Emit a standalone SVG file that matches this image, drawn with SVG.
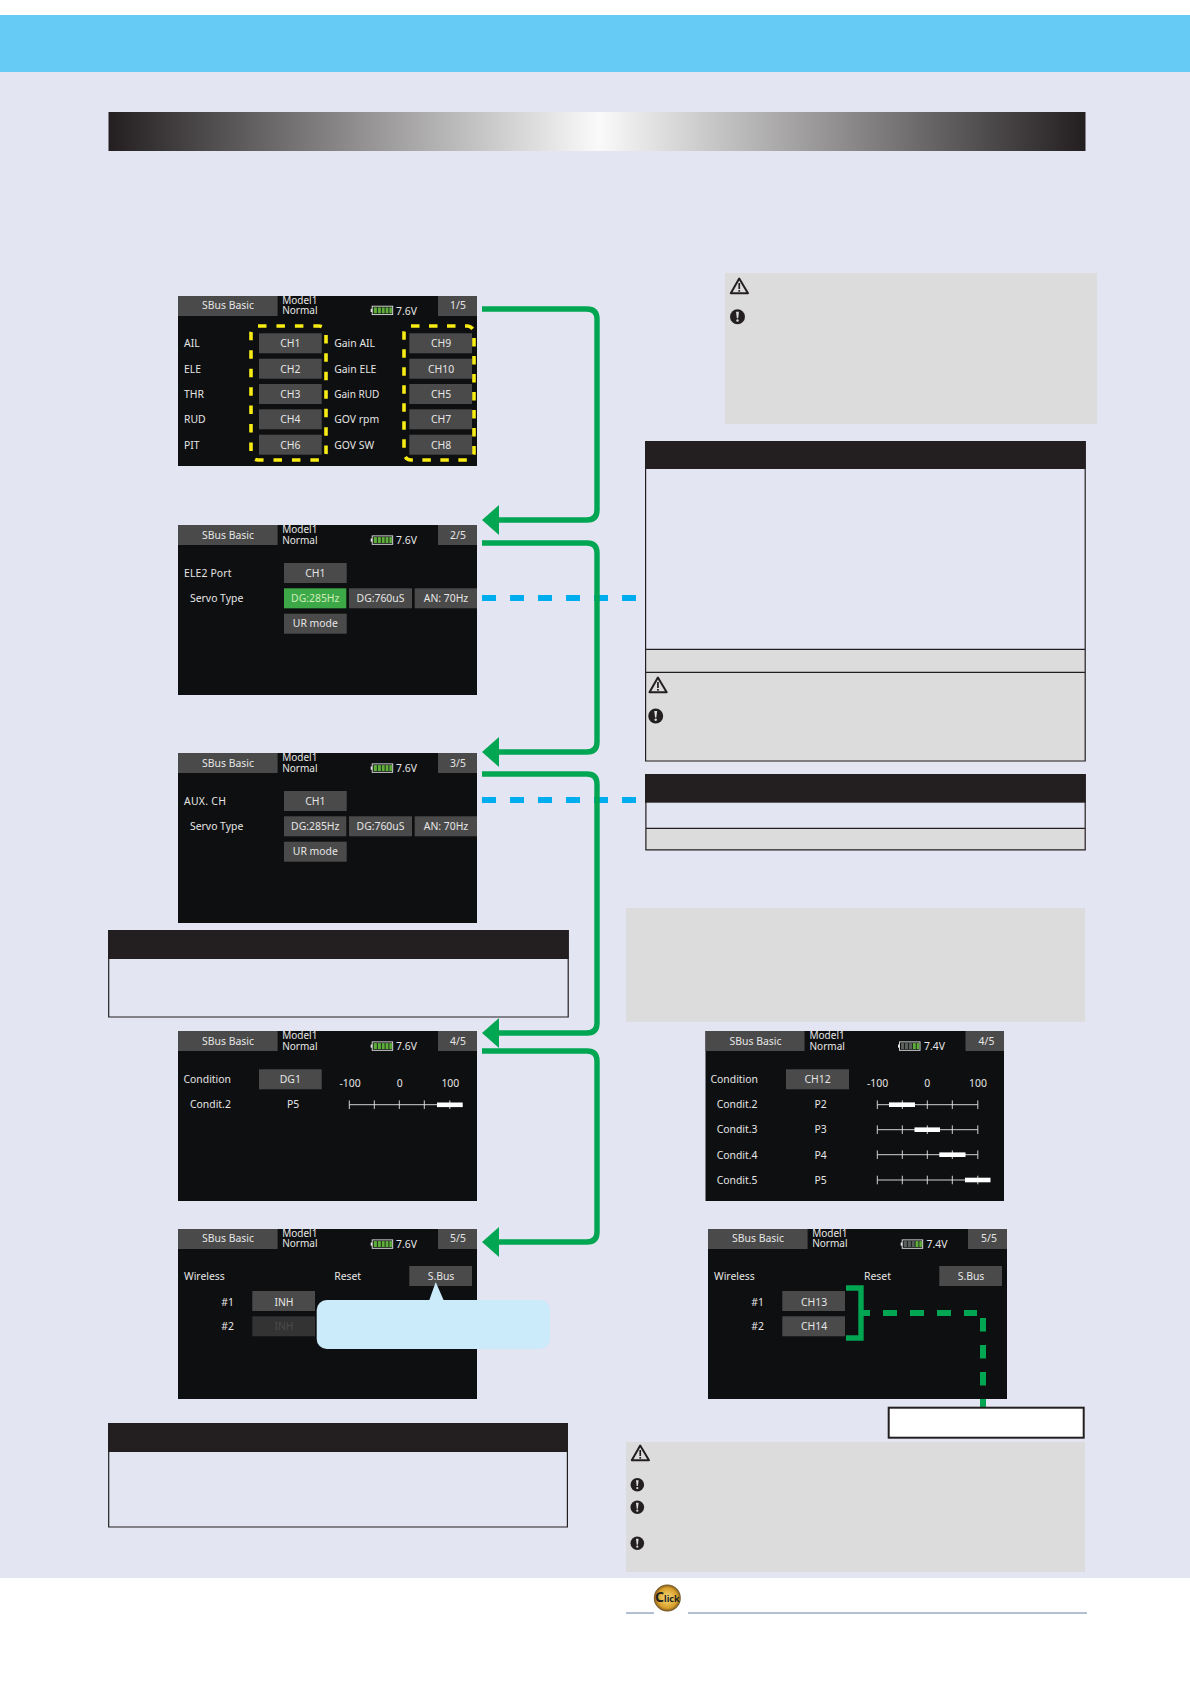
<svg xmlns="http://www.w3.org/2000/svg" xmlns:xlink="http://www.w3.org/1999/xlink" width="1190" height="1684" viewBox="0 0 1190 1684">
<style>
text{font-family:"Noto Sans","Open Sans","DejaVu Sans",sans-serif;font-size:10.4px;fill:#e6e6e6}
.scr{fill:#0e0f10}
.btn{fill:#4a4a4a}
.m{text-anchor:middle}
.mn{font-size:10px}
.hdr{fill:#231f20}
.box{fill:none;stroke:#231f20;stroke-width:1.2}
.gray{fill:#dcdcdc}
.lav{fill:#e4e5f3}
.arrow{fill:none;stroke:#00a651;stroke-width:5.4;stroke-linejoin:round}
.dashg{fill:none;stroke:#00a651;stroke-width:6;stroke-dasharray:14 13}
.dashv{fill:none;stroke:#00a651;stroke-width:6;stroke-dasharray:13.5 13.5}
.dashb{fill:none;stroke:#00aeef;stroke-width:6;stroke-dasharray:14 14}
.yel{fill:none;stroke:#f7ec13;stroke-width:3.6}
.head{fill:#00a651}
.scale{stroke:#e6e6e6;stroke-width:.9;fill:none}
.bar{fill:#fff}
.warn{fill:none;stroke:#231f20;stroke-width:2;stroke-linejoin:round}
.ink{fill:#231f20}
.inkw{fill:#dcdcdc}
</style>
<defs>
<linearGradient id="bar" x1="0" x2="1" y1="0" y2="0">
<stop offset="0" stop-color="#231f20"/><stop offset=".502" stop-color="#fafafa"/><stop offset="1" stop-color="#231f20"/>
</linearGradient>
<radialGradient id="gold" cx=".5" cy=".5" r=".52">
<stop offset="0" stop-color="#f8dc7c"/><stop offset=".72" stop-color="#d99f2a"/><stop offset="1" stop-color="#5c4320"/>
</radialGradient>
<g id="warn"><path class="warn" d="M9.2,1.5 L18,16.2 H.8 Z"/><rect class="ink" x="8.4" y="6" width="1.7" height="6"/><rect class="ink" x="8.4" y="13" width="1.7" height="1.7"/></g>
<g id="excl"><circle class="ink" cx="0" cy="0" r="6.8"/><path class="inkw" d="M-1.3,-4.5 H1.3 L.6,1.4 H-.6 Z"/><circle class="inkw" cx="0" cy="3.4" r="1.1"/></g>
<g id="batt76"><rect x="1.5" y="0" width="20.5" height="8.4" fill="#0e0f10" stroke="#e6e6e6" stroke-width=".9"/><rect x="0" y="2.6" width="1.5" height="3.2" fill="#e6e6e6"/><g fill="#5fae3c"><rect x="3" y="1.2" width="3.2" height="6"/><rect x="7" y="1.2" width="3.2" height="6"/><rect x="11" y="1.2" width="3" height="6"/><rect x="14.8" y="1.2" width="3" height="6"/><rect x="18.6" y="1.2" width="2.6" height="6"/></g></g>
<g id="batt74"><rect x="1.5" y="0" width="20.5" height="8.4" fill="#0e0f10" stroke="#e6e6e6" stroke-width=".9"/><rect x="0" y="2.6" width="1.5" height="3.2" fill="#e6e6e6"/><g fill="#5a5f5c"><rect x="3" y="1.2" width="3.2" height="6"/><rect x="7" y="1.2" width="3.2" height="6"/><rect x="11" y="1.2" width="3" height="6"/></g><g fill="#5fae3c"><rect x="14.8" y="1.2" width="3" height="6"/><rect x="18.6" y="1.2" width="2.6" height="6"/></g></g>
<g id="scaleline"><path class="scale" d="M0,0 H100.5 M0,-4.3 V4.3 M25,-4.3 V4.3 M50,-4.3 V4.3 M75,-4.3 V4.3 M100.5,-4.3 V4.3"/></g>
</defs>

<rect width="1190" height="1684" fill="#fff"/>
<rect id="page" class="lav" y="72" width="1190" height="1506"/>
<rect id="band" y="15" width="1190" height="57" fill="#66ccf5"/>
<rect id="titlebar" x="108.5" y="112" width="977" height="39" fill="url(#bar)"/>

<g id="note-top">
<rect class="gray" x="725" y="273" width="372" height="151"/>
<use xlink:href="#warn" x="730" y="277"/><use xlink:href="#excl" transform="translate(737.5,316.7) scale(1.1)"/>
</g>

<g id="panel-servo">
<rect class="lav" x="645.3" y="441" width="440" height="208"/>
<rect class="gray" x="645.3" y="649" width="440" height="112.3"/>
<rect class="hdr" x="645" y="441" width="440.7" height="28"/>
<path class="box" d="M645.6,441 V761 H1085.2 V441 M645.6,649.3 H1085.2 M645.6,672.3 H1085.2"/>
<use xlink:href="#warn" x="648.7" y="676"/><use xlink:href="#excl" transform="translate(655.7,716) scale(1.1)"/>
</g>

<g id="panel-aux">
<rect class="gray" x="645.6" y="828" width="440" height="22"/>
<rect class="hdr" x="645" y="774" width="440.7" height="28.7"/>
<path class="box" d="M645.9,774 V849.8 H1085.2 V774 M645.9,828.3 H1085.2"/>
</g>

<rect id="note-mid" class="gray" x="626" y="908" width="459" height="113.7"/>

<g id="panel-left1">
<rect class="hdr" x="108" y="930" width="460.7" height="29"/>
<path class="box" d="M108.7,930 V1017 H568.2 V930"/>
</g>
<g id="panel-left2">
<rect class="hdr" x="108" y="1423" width="460" height="29"/>
<path class="box" d="M108.7,1423 V1527 H567.4 V1423"/>
</g>

<g id="screen-1" transform="translate(178,296)">
<rect class="scr" width="299" height="170"/>
<rect class="btn" width="99.6" height="20"/><rect class="btn" x="260" width="39" height="20"/>
<text class="m" x="50" y="13">SBus Basic</text><text class="mn" x="104.2"><tspan y="7.5">Model1</tspan><tspan x="104.2" y="18">Normal</tspan></text>
<use xlink:href="#batt76" x="192.7" y="10.2"/><text x="218" y="18.5">7.6V</text><text class="m" x="280" y="13">1/5</text>
<rect class="btn" x="81" y="37.3" width="62.7" height="20"/><rect class="btn" x="81" y="62.7" width="62.7" height="20"/><rect class="btn" x="81" y="88" width="62.7" height="20"/><rect class="btn" x="81" y="113.3" width="62.7" height="20"/><rect class="btn" x="81" y="138.7" width="62.7" height="20"/>
<rect class="btn" x="231.3" y="37.3" width="62.7" height="20"/><rect class="btn" x="231.3" y="62.7" width="62.7" height="20"/><rect class="btn" x="231.3" y="88" width="62.7" height="20"/><rect class="btn" x="231.3" y="113.3" width="62.7" height="20"/><rect class="btn" x="231.3" y="138.7" width="62.7" height="20"/>
<text x="6" y="51.4">AIL</text><text x="6" y="76.8">ELE</text><text x="6" y="102.1">THR</text><text x="6" y="127.4">RUD</text><text x="6" y="152.8">PIT</text>
<text class="m" x="112.3" y="51.4">CH1</text><text class="m" x="112.3" y="76.8">CH2</text><text class="m" x="112.3" y="102.1">CH3</text><text class="m" x="112.3" y="127.4">CH4</text><text class="m" x="112.3" y="152.8">CH6</text>
<text x="156.2" y="51.4">Gain AIL</text><text x="156.2" y="76.8">Gain ELE</text><text x="156.2" y="102.1" style="font-size:10px">Gain RUD</text><text x="156.2" y="127.4">GOV rpm</text><text x="156.2" y="152.8">GOV SW</text>
<text class="m" x="263" y="51.4">CH9</text><text class="m" x="263" y="76.8">CH10</text><text class="m" x="263" y="102.1">CH5</text><text class="m" x="263" y="127.4">CH7</text><text class="m" x="263" y="152.8">CH8</text>
<rect class="yel" x="73" y="30" width="75" height="134" rx="7" stroke-dasharray="8.5 9.95"/>
<rect class="yel" x="226" y="30" width="70" height="134" rx="7" stroke-dasharray="8.5 9.5"/>
</g>

<g id="screen-2" transform="translate(178,525)">
<rect class="scr" width="299" height="170"/>
<rect class="btn" width="99.6" height="20"/><rect class="btn" x="260" width="39" height="20"/>
<text class="m" x="50" y="13.7">SBus Basic</text><text class="mn" x="104.2"><tspan y="8.2">Model1</tspan><tspan x="104.2" y="18.7">Normal</tspan></text>
<use xlink:href="#batt76" x="192.7" y="10.9"/><text x="218" y="19">7.6V</text><text class="m" x="280" y="13.7">2/5</text>
<rect class="btn" x="106" y="38" width="62.7" height="20"/>
<rect x="106" y="63.3" width="62.3" height="20" fill="#3da848"/><rect class="btn" x="171" y="63.3" width="63" height="20"/><rect class="btn" x="236.7" y="63.3" width="62.3" height="20"/>
<rect class="btn" x="106" y="88.7" width="62.7" height="20"/>
<text x="6" y="52" style="letter-spacing:.15px">ELE2 Port</text><text class="m" x="137.3" y="52">CH1</text>
<text x="12" y="77.4">Servo Type</text>
<text class="m" x="137.3" y="77.4" style="fill:#cdeeb8">DG:285Hz</text><text class="m" x="202.5" y="77.4">DG:760uS</text><text class="m" x="268" y="77.4">AN: 70Hz</text>
<text class="m" x="137.3" y="102">UR mode</text>
</g>

<g id="screen-3" transform="translate(178,753)">
<rect class="scr" width="299" height="170"/>
<rect class="btn" width="99.6" height="20"/><rect class="btn" x="260" width="39" height="20"/>
<text class="m" x="50" y="13.7">SBus Basic</text><text class="mn" x="104.2"><tspan y="8.2">Model1</tspan><tspan x="104.2" y="18.7">Normal</tspan></text>
<use xlink:href="#batt76" x="192.7" y="10.9"/><text x="218" y="19">7.6V</text><text class="m" x="280" y="13.7">3/5</text>
<rect class="btn" x="106" y="38" width="62.7" height="20"/>
<rect class="btn" x="106" y="63.3" width="62.3" height="20"/><rect class="btn" x="171" y="63.3" width="63" height="20"/><rect class="btn" x="236.7" y="63.3" width="62.3" height="20"/>
<rect class="btn" x="106" y="88.7" width="62.7" height="20"/>
<text x="6" y="52" style="letter-spacing:.3px">AUX. CH</text><text class="m" x="137.3" y="52">CH1</text>
<text x="12" y="77.4">Servo Type</text>
<text class="m" x="137.3" y="77.4">DG:285Hz</text><text class="m" x="202.5" y="77.4">DG:760uS</text><text class="m" x="268" y="77.4">AN: 70Hz</text>
<text class="m" x="137.3" y="102">UR mode</text>
</g>

<g id="screen-4" transform="translate(178,1031)">
<rect class="scr" width="299" height="170"/>
<rect class="btn" width="99.6" height="20"/><rect class="btn" x="260" width="39" height="20"/>
<text class="m" x="50" y="13.7">SBus Basic</text><text class="mn" x="104.2"><tspan y="8.2">Model1</tspan><tspan x="104.2" y="18.7">Normal</tspan></text>
<use xlink:href="#batt76" x="192.7" y="10.9"/><text x="218" y="19">7.6V</text><text class="m" x="280" y="13.7">4/5</text>
<rect class="btn" x="81" y="38.3" width="62.7" height="20"/>
<text x="5.5" y="52">Condition</text><text class="m" x="112.3" y="52">DG1</text>
<text class="m" x="172" y="56">-100</text><text class="m" x="221.7" y="56">0</text><text class="m" x="272.3" y="56">100</text>
<text x="12" y="77">Condit.2</text><text class="m" x="115" y="77">P5</text>
<use xlink:href="#scaleline" x="171.3" y="73.7"/><rect class="bar" x="259" y="71.5" width="25.7" height="4.6"/>
</g>

<g id="screen-5" transform="translate(178,1229)">
<rect class="scr" width="299" height="170"/>
<rect class="btn" width="99.6" height="20"/><rect class="btn" x="260" width="39" height="20"/>
<text class="m" x="50" y="13">SBus Basic</text><text class="mn" x="104.2"><tspan y="7.5">Model1</tspan><tspan x="104.2" y="18">Normal</tspan></text>
<use xlink:href="#batt76" x="192.7" y="10.9"/><text x="218" y="19">7.6V</text><text class="m" x="280" y="13">5/5</text>
<rect class="btn" x="231.3" y="37" width="62.7" height="20"/><rect class="btn" x="74.3" y="62" width="62.7" height="20"/><rect x="74.3" y="87.3" width="62.7" height="20" fill="#333"/>
<text x="6" y="51">Wireless</text><text x="156.2" y="51">Reset</text><text class="m" x="263" y="51">S.Bus</text>
<text class="m" x="49.7" y="76.6">#1</text><text class="m" x="106" y="76.6">INH</text>
<text class="m" x="49.7" y="101">#2</text><text class="m" x="106" y="101" style="fill:#4a4a4a">INH</text>
</g>

<g id="screen-4b" transform="translate(705.5,1031)">
<rect class="scr" width="298.5" height="170"/>
<rect class="btn" width="99" height="20"/><rect class="btn" x="260" width="38.5" height="20"/>
<text class="m" x="50" y="13.7">SBus Basic</text><text class="mn" x="104"><tspan y="8.2">Model1</tspan><tspan x="104" y="18.7">Normal</tspan></text>
<use xlink:href="#batt74" x="192.5" y="10.9"/><text x="218.5" y="19">7.4V</text><text class="m" x="281" y="13.7">4/5</text>
<rect class="btn" x="80.5" y="38.3" width="63" height="20"/>
<text x="5" y="52">Condition</text><text class="m" x="112" y="52">CH12</text>
<text class="m" x="172" y="56">-100</text><text class="m" x="221.8" y="56">0</text><text class="m" x="272.5" y="56">100</text>
<text x="11.2" y="77">Condit.2</text><text class="m" x="115" y="77">P2</text>
<text x="11.2" y="102.4">Condit.3</text><text class="m" x="115" y="102.4">P3</text>
<text x="11.2" y="127.5">Condit.4</text><text class="m" x="115" y="127.5">P4</text>
<text x="11.2" y="152.8">Condit.5</text><text class="m" x="115" y="152.8">P5</text>
<use xlink:href="#scaleline" x="171.8" y="73.7"/><rect class="bar" x="183.5" y="71.4" width="26" height="4.6"/>
<use xlink:href="#scaleline" x="171.8" y="98.7"/><rect class="bar" x="209" y="96.4" width="25.5" height="4.6"/>
<use xlink:href="#scaleline" x="171.8" y="123.7"/><rect class="bar" x="233.8" y="121.4" width="26.2" height="4.6"/>
<use xlink:href="#scaleline" x="171.8" y="149"/><rect class="bar" x="259.5" y="146.7" width="25.5" height="4.6"/>
</g>

<g id="screen-5b" transform="translate(708,1229)">
<rect class="scr" width="299" height="170"/>
<rect class="btn" width="99.6" height="20"/><rect class="btn" x="260" width="39" height="20"/>
<text class="m" x="50" y="13">SBus Basic</text><text class="mn" x="104.2"><tspan y="7.5">Model1</tspan><tspan x="104.2" y="18">Normal</tspan></text>
<use xlink:href="#batt74" x="192.7" y="10.9"/><text x="218.5" y="19">7.4V</text><text class="m" x="281" y="13">5/5</text>
<rect class="btn" x="231.3" y="37" width="62.7" height="20"/><rect class="btn" x="74.3" y="62" width="62.7" height="20"/><rect class="btn" x="74.3" y="87.3" width="62.7" height="20"/>
<text x="6" y="51">Wireless</text><text x="156" y="51">Reset</text><text class="m" x="263" y="51">S.Bus</text>
<text class="m" x="49.7" y="76.6">#1</text><text class="m" x="106" y="76.6">CH13</text>
<text class="m" x="49.7" y="101">#2</text><text class="m" x="106" y="101">CH14</text>
</g>

<g id="callout">
<rect x="316.7" y="1300" width="233.3" height="49" rx="10" fill="#cbebfb"/>
<path d="M435.7,1282 L444,1301 H429 Z" fill="#cbebfb"/>
</g>

<g id="connectors">
<path class="dashb" d="M482,598 H636"/>
<path class="dashb" d="M482,800 H636"/>
<path class="arrow" d="M482,309 H587 Q597,309 597,319 V510 Q597,520 587,520 H497"/>
<path class="head" d="M482,520 L499,505 V535 Z"/>
<path class="arrow" d="M482,543 H587 Q597,543 597,553 V742 Q597,752 587,752 H497"/>
<path class="head" d="M482,752 L499,737 V767 Z"/>
<path class="arrow" d="M482,774 H587 Q597,774 597,784 V1023 Q597,1033 587,1033 H497"/>
<path class="head" d="M482,1033 L499,1018 V1048 Z"/>
<path class="arrow" d="M482,1051 H587 Q597,1051 597,1061 V1232 Q597,1242 587,1242 H497"/>
<path class="head" d="M482,1242 L499,1227 V1257 Z"/>
<path class="arrow" d="M846,1288 H861 V1338 H846" style="stroke-linejoin:miter"/>
<path class="dashg" stroke-dashoffset="5" d="M861,1313 H977"/>
<path class="dashv" d="M983,1318 V1407"/>
</g>

<g id="label-box"><rect x="888.7" y="1407.7" width="195" height="30" fill="#fff" stroke="#231f20" stroke-width="2"/></g>

<g id="note-bottom">
<rect class="gray" x="626" y="1441.7" width="459" height="130.3"/>
<use xlink:href="#warn" x="631" y="1444"/>
<use xlink:href="#excl" x="637.3" y="1484.7"/><use xlink:href="#excl" x="637.3" y="1507.3"/><use xlink:href="#excl" x="637.3" y="1543.3"/>
</g>

<g id="footer">
<path d="M626,1613 H654 M688,1613 H1087" stroke="#6b7fa8" stroke-width="1" fill="none"/>
<circle cx="667.3" cy="1598" r="13.5" fill="url(#gold)"/>
<text class="m" x="667.3" y="1602" style="font-size:9px;font-weight:700;fill:#231f20"><tspan style="font-size:14px">C</tspan>lick</text>
</g>
</svg>
